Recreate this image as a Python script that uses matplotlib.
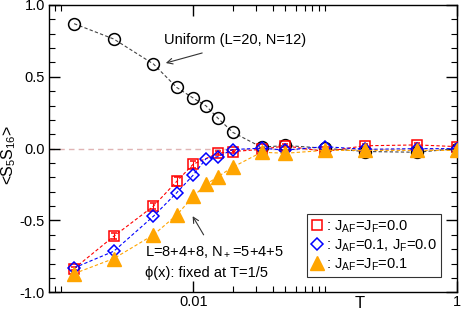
import numpy as np
import matplotlib
matplotlib.use('Agg')
import matplotlib.pyplot as plt
from matplotlib.lines import Line2D
from matplotlib.ticker import FixedLocator, NullFormatter

plt.rcParams['font.family'] = ['Liberation Sans', 'DejaVu Sans']
plt.rcParams['mathtext.fontset'] = 'custom'
plt.rcParams['mathtext.rm'] = 'Liberation Sans'

# temperatures (log axis)
T_all = [0.00125, 0.0025, 0.005, 0.0075, 0.01, 0.0125, 0.0154, 0.02, 0.033, 0.05, 0.1, 0.2, 0.5, 1.0]
T_red = [0.00125, 0.0025, 0.005, 0.0075, 0.01, 0.0154, 0.02, 0.033, 0.05, 0.1, 0.2, 0.5, 1.0]

uniform = [0.87, 0.763, 0.589, 0.426, 0.352, 0.298, 0.212, 0.113, 0.01, 0.022, 0.003, -0.02, -0.025, 0.0]
red_vals = [-0.835, -0.61, -0.40, -0.228, -0.108, -0.032, -0.02, -0.005, 0.019, -0.02, 0.02, 0.026, 0.014]
red_err = [0.01, 0.02, 0.02, 0.03, 0.025, 0.015, 0.01, 0.01, 0.01, 0.01, 0.01, 0.01, 0.01]
blue_vals = [-0.83, -0.714, -0.47, -0.307, -0.184, -0.07, -0.056, -0.006, 0.003, -0.01, 0.014, -0.005, 0.0, 0.0]
orange_vals = [-0.87, -0.765, -0.60, -0.462, -0.333, -0.249, -0.195, -0.128, -0.025, -0.032, -0.012, -0.012, -0.012, -0.012]

labels = [': J$_\\mathregular{AF}$=J$_\\mathregular{F}$=0.0',
          ': J$_\\mathregular{AF}$=0.1, J$_\\mathregular{F}$=0.0',
          ': J$_\\mathregular{AF}$=J$_\\mathregular{F}$=0.1']

RED = '#ff0000'
BLUE = '#0000ff'
ORANGE = '#ffa500'
dash = (0, (3, 2))

fig = plt.figure(figsize=(4.63, 3.12), dpi=100)
ax = fig.add_axes([0.1048, 0.0631, 0.8822, 0.9209])

ax.axhline(0, color='#e0b4b4', lw=1, ls=(0, (4, 3)), zorder=1)

ax.plot(T_all, uniform, ls=dash, color='#444444', lw=0.8, marker='o', ms=8.5,
        mfc='none', mec='black', mew=1.1, zorder=2)
ax.errorbar(T_red, red_vals, yerr=red_err, ls=dash, color=RED, lw=0.8, marker='s', ms=7.5,
            mfc='none', mec=RED, mew=1.1, elinewidth=0.8, capsize=2.5, zorder=3)
ax.plot(T_all, blue_vals, ls=dash, color=BLUE, lw=0.8, marker='D', ms=6.2,
        mfc='none', mec=BLUE, mew=1.1, zorder=4)
ax.plot(T_all, orange_vals, ls=dash, color=ORANGE, lw=0.8, marker='^', ms=10,
        mfc=ORANGE, mec=ORANGE, zorder=5)

ax.set_xscale('log')
ax.set_xlim(0.0008, 1.0)
ax.set_ylim(-1.0, 1.0)
ax.xaxis.set_major_locator(FixedLocator([0.01, 1.0]))
ax.xaxis.set_minor_locator(FixedLocator([0.0009, 0.001] + [k * 0.01 for k in range(2, 11)]))
ax.xaxis.set_minor_formatter(NullFormatter())
ax.set_xticklabels(['0.01', '1'])
ax.set_yticks([-1.0, -0.5, 0.0, 0.5, 1.0])
ax.set_yticklabels(['-1.0', '-0.5', '0.0', '0.5', '1.0'])
ax.yaxis.set_minor_locator(FixedLocator(np.arange(-1.0, 1.001, 0.1)))

ax.tick_params(which='both', direction='in', top=True, right=True, labelsize=10.5)
ax.tick_params(which='major', length=8, width=1)
ax.tick_params(which='minor', length=4, width=0.8)
ax.tick_params(axis='y', which='major', pad=2.5)
ax.tick_params(axis='x', which='major', pad=2)
for sp in ax.spines.values():
    sp.set_linewidth(1)

ax.set_ylabel('<S$_\\mathregular{5}$S$_\\mathregular{16}$>', fontsize=11.5)
ax.yaxis.set_label_coords(-0.074, 0.478)
ax.text(0.763, -0.04, 'T', transform=ax.transAxes, ha='center', va='center', fontsize=12)

ax.text(0.0206, 0.759, 'Uniform (L=20, N=12)', fontsize=10.5, ha='center', va='center')
ax.annotate('', xy=(0.0062, 0.596), xytext=(0.0117, 0.666),
            arrowprops=dict(arrowstyle='->', lw=0.8, color='#333333', shrinkA=0, shrinkB=0))
ax.annotate('', xy=(0.0099, -0.47), xytext=(0.0120, -0.60),
            arrowprops=dict(arrowstyle='->', lw=0.8, color='#333333', shrinkA=0, shrinkB=0))
ax.text(0.0043, -0.72, 'L=8+4+8, N$_+$=5+4+5', fontsize=10.5, ha='left', va='center')
ax.text(0.0043, -0.865, '\u03d5(x): fixed at T=1/5', fontsize=10.5, ha='left', va='center')

handles = [
    Line2D([], [], ls='none', marker='s', ms=7.5, mfc='none', mec=RED, mew=1.1),
    Line2D([], [], ls='none', marker='D', ms=6.2, mfc='none', mec=BLUE, mew=1.1),
    Line2D([], [], ls='none', marker='^', ms=10, mfc=ORANGE, mec=ORANGE),
]
leg = ax.legend(handles, labels, loc='lower right', bbox_to_anchor=(0.961, 0.053),
                fontsize=10.5, frameon=True, fancybox=False, handlelength=0.8,
                handletextpad=0.2, borderpad=0.3, labelspacing=0.15, borderaxespad=0)
leg.get_frame().set_edgecolor('black')
leg.get_frame().set_linewidth(0.8)

fig.savefig('out.png', dpi=100)
